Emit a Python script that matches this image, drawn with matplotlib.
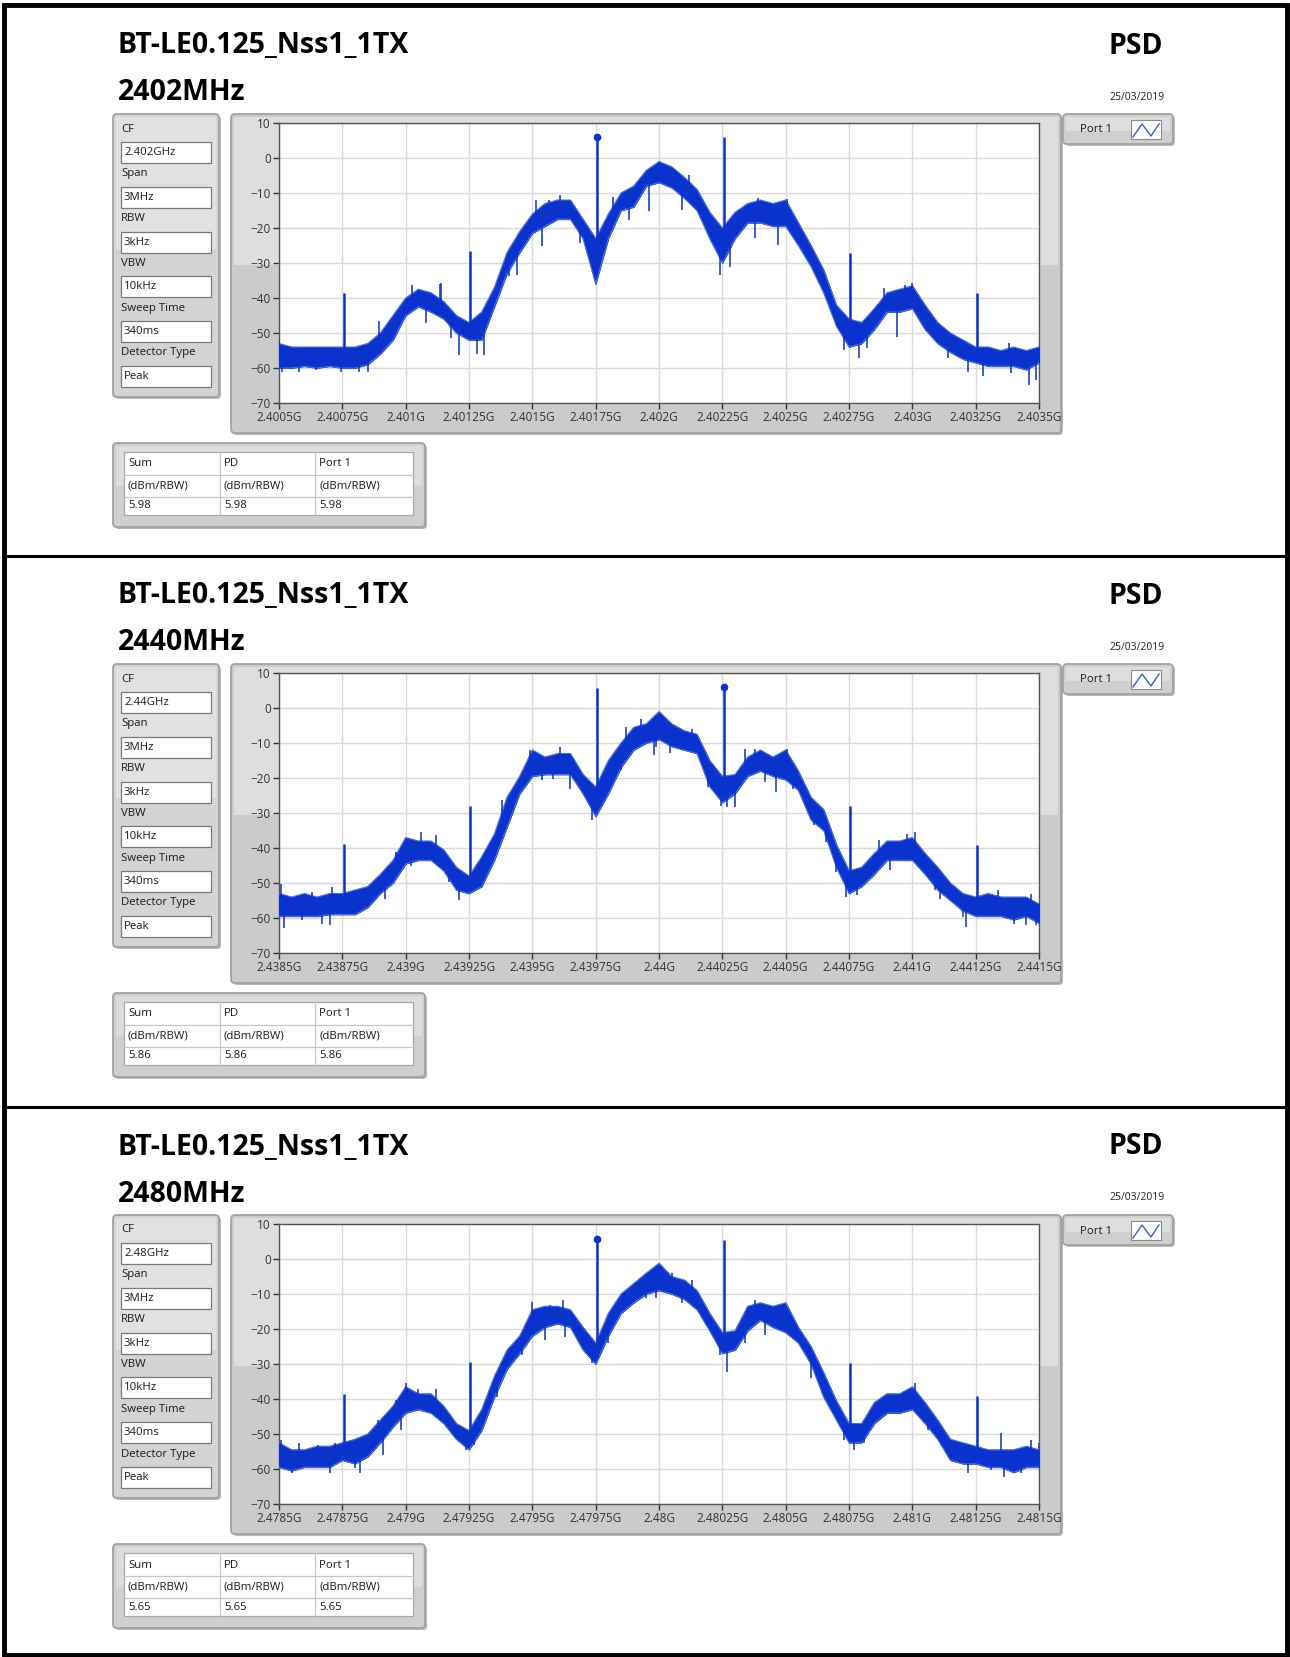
import numpy as np
import matplotlib
matplotlib.use('Agg')
import matplotlib.pyplot as plt
from matplotlib.patches import FancyBboxPatch, Rectangle
from matplotlib.ticker import FuncFormatter

W, H = 1290, 1657
plt.rcParams['font.family'] = ['Open Sans', 'DejaVu Sans']

BLUE = '#0a32cc'

# --- report data ---------------------------------------------------------
test_name = 'BT-LE0.125_Nss1_1TX'
channels = ['2402MHz', '2440MHz', '2480MHz']
cf_text = ['2.402GHz', '2.44GHz', '2.48GHz']
start_ghz = [2.4005, 2.4385, 2.4785]
report_date = '25/03/2019'
param_names = ['CF', 'Span', 'RBW', 'VBW', 'Sweep Time', 'Detector Type']
param_common = ['3MHz', '3kHz', '10kHz', '340ms', 'Peak']
table_cols = ['Sum', 'PD', 'Port 1']
table_unit = '(dBm/RBW)'
psd_result = [5.98, 5.86, 5.65]

# trace envelope (dBm), one value every 50 kHz from the start frequency
upper_2402 = [-53, -54, -54, -54, -54, -54, -54, -53, -50, -45, -40, -37.5, -38.5, -41, -45, -47,
              -44, -37, -27, -21, -16, -13, -12, -12, -17.5, -23, -16, -10, -8, -3.5, -1, -2.5,
              -5.5, -9, -15.5, -20, -15.5, -13, -12, -13, -12, -18.5, -25, -32, -42, -46, -47,
              -43, -38.5, -37.5, -36.5, -42, -47, -50, -52, -54, -54, -55, -54, -55, -54]
lower_2402 = [-60, -60, -59.5, -60, -59.5, -60, -60, -59, -56, -52, -45, -42.5, -44, -46, -50, -52,
              -52, -42.5, -33, -27, -21.5, -19.5, -17.5, -17.5, -23, -36, -23, -15, -14, -8, -7,
              -8.5, -11.5, -15, -23, -30, -23, -18.5, -18.5, -19.5, -19.5, -25, -31, -38.5, -48,
              -54, -53, -49, -44, -44, -43, -49, -53, -55.5, -57.5, -58.5, -59.5, -59.5, -59.5,
              -60.5, -58.5]
upper_2440 = [-53, -54, -53, -54, -53, -53, -52, -51, -47.5, -43.5, -37, -38, -38, -40.5, -45.5, -48,
              -42.5, -36, -25.5, -19.5, -12, -14, -13, -13, -19, -22.5, -15, -10, -5.5, -4.5, -1,
              -4.5, -6.5, -7.5, -15, -19.5, -19, -14, -12, -14, -12, -18, -25.5, -29, -39, -46.5,
              -45.5, -41.5, -38, -38, -37, -41.5, -45.5, -50, -53, -54, -53, -54, -54, -54, -56]
lower_2440 = [-59.5, -59.5, -59.5, -59.5, -59, -59, -59, -57, -53, -50, -44.5, -43.5, -43.5, -46.5,
              -52, -53, -51, -43.5, -34, -24.5, -19.5, -19, -19, -19, -24.5, -31, -24.5, -17, -12,
              -10, -9, -11, -12, -13, -22.5, -27, -24.5, -19.5, -18, -19.5, -20.5, -23.5, -32, -35,
              -45.5, -53, -51, -47.5, -43.5, -43.5, -43.5, -47.5, -52, -55, -58, -59.5, -59.5,
              -59.5, -60.5, -59.5, -61.5]
upper_2480 = [-52.5, -54.5, -54.5, -53.5, -53.5, -52.5, -51.5, -50, -46, -42, -36.5, -38.5, -38.5,
              -42, -47, -49, -43, -33.5, -26, -22, -14.5, -13.5, -13.5, -14.5, -19.5, -24, -15.5,
              -10, -7, -4, -1.2, -5, -6, -9, -15.5, -21, -20.5, -13.5, -12.5, -13.5, -12.5, -19.5,
              -25, -32.5, -40.5, -47, -47, -41, -38.5, -38.5, -36.5, -41, -46, -51.5, -52.5, -53.5,
              -54.5, -54.5, -54.5, -53.5, -54.5]
lower_2480 = [-59.5, -60.5, -59.5, -59.5, -59.5, -57.5, -58.5, -56.5, -52.5, -48, -44, -43, -44, -47,
              -51.5, -54.5, -49, -39.5, -31.5, -27, -22, -19.5, -18.5, -19.5, -26, -30, -22, -15.5,
              -12.5, -10, -9, -10, -11.5, -14.5, -20.5, -27, -26, -20.5, -17.5, -19.5, -21, -24, -30,
              -39.5, -46, -52.5, -52.5, -47, -44, -44, -43, -47, -51.5, -57.5, -58.5, -58.5, -59.5,
              -59.5, -61, -59.5, -59.5]

# narrow spurs: offset from start (MHz), peak and foot (dBm)
spur_off = [0.255, 0.755, 1.255, 1.755, 2.255, 2.755]
spur_top_2402 = [-38.6, -26.7, 5.98, 5.9, -27.0, -38.6]
spur_top_2440 = [-38.8, -28.1, 5.8, 5.86, -28.1, -39.0]
spur_top_2480 = [-38.6, -29.3, 5.65, 5.5, -29.6, -39.0]
spur_foot_2402 = [-58, -50, -30, -25, -50, -56]
spur_foot_2440 = [-57, -50, -28, -24, -50, -57]
spur_foot_2480 = [-57, -50, -27, -25, -50, -57]
marker_idx = [2, 3, 2]

# single noise samples sticking out of the band: offset (MHz) and level (dBm)
out_off_2402 = [0.0, 0.01, 0.08, 0.145, 0.243, 0.316, 0.35, 0.395, 0.526, 0.58, 0.634, 0.64, 0.678,
                0.71, 0.78, 0.81, 0.907, 0.94, 1.013, 1.04, 1.066, 1.11, 1.19, 1.27, 1.32, 1.38,
                1.46, 1.59, 1.62, 1.74, 1.78, 1.88, 1.89, 1.97, 2.005, 2.23, 2.29, 2.32, 2.39, 2.44,
                2.47, 2.5, 2.64, 2.72, 2.78, 2.88, 2.89, 2.96, 2.99]
out_val_2402 = [-52, -61, -61, -60.5, -61, -61, -61, -46.7, -36.2, -47, -36, -35.7, -51.4,
                -56.2, -56, -56.2, -33.8, -33.3, -11.9, -25.2, -11.9, -10.5, -24.3, -27.6, -11, -17.6,
                -15.2, -14.8, -4.8, -33.3, -31, -22.9, -11.4, -24.8, -11.6, -54.8, -57.1, -54.3, -37.1, -51,
                -36.2, -35.7, -57.1, -61, -62.4, -52.9, -61.4, -64.8, -63.3]
out_off_2440 = [0.008, 0.02, 0.09, 0.13, 0.17, 0.2, 0.21, 0.42, 0.46, 0.52, 0.56, 0.62, 0.67, 0.71,
                0.84, 0.88, 0.99, 1.04, 1.08, 1.11, 1.15, 1.235, 1.27, 1.35, 1.37, 1.43, 1.48, 1.487,
                1.545, 1.63, 1.695, 1.745, 1.77, 1.8, 1.84, 1.88, 1.92, 1.96, 2.005, 2.03, 2.11,
                2.16, 2.2, 2.24, 2.28, 2.37, 2.41, 2.48, 2.51, 2.59, 2.61, 2.7, 2.71, 2.84, 2.9,
                2.95, 2.97, 2.99]
out_val_2440 = [-50.2, -63, -60.7, -52.6, -61.6, -62, -51.1, -54.5, -41.1, -45, -35.4, -36.4, -49.7, -54.8,
                -44, -26.4, -11.9, -20.7, -20.2, -11.1, -23, -31.9, -28, -17.8, -5.4, -3, -13.5, -11,
                -12.9, -5.9, -22.6, -28, -28.3, -28.3, -11.6, -11.6, -21.1, -24, -11.6, -23, -33.5,
                -38.3, -46.9, -54, -53.5, -37.8, -46.4, -35.9, -35.4, -52, -54.5, -59.7, -62.6, -52, -61.6,
                -62.1, -53, -62]
out_off_2480 = [0.008, 0.05, 0.08, 0.155, 0.2, 0.22, 0.3, 0.32, 0.39, 0.41, 0.46, 0.48, 0.5, 0.55,
                0.62, 0.74, 0.77, 0.86, 0.96, 1.0, 1.05, 1.07, 1.12, 1.13, 1.235, 1.26, 1.3, 1.45,
                1.487, 1.55, 1.59, 1.63, 1.74, 1.77, 1.84, 1.88, 1.92, 2.1, 2.23, 2.27, 2.31, 2.34,
                2.51, 2.56, 2.72, 2.81, 2.85, 2.86, 2.93, 2.97, 3.0]
out_val_2480 = [-51.7, -61.2, -52.7, -53.1, -61.2, -52.7, -59.8, -61.2, -46, -56, -40.3, -48.9, -35.5, -37,
                -37, -54.6, -53.1, -39.3, -27.4, -12.2, -23.1, -13.1, -11.7, -22.2, -29.8, -28.4, -24.1, -11,
                -11, -4.1, -12.7, -6, -27.4, -32.2, -24.1, -11.7, -21.7, -34.1, -51.7, -54.6, -52.7, -43.1,
                -35.5, -48.9, -61.2, -60.3, -49.8, -62.2, -61.2, -51.7, -52.5]

uppers = [upper_2402, upper_2440, upper_2480]
lowers = [lower_2402, lower_2440, lower_2480]
spur_tops = [spur_top_2402, spur_top_2440, spur_top_2480]
spur_feet = [spur_foot_2402, spur_foot_2440, spur_foot_2480]
out_offs = [out_off_2402, out_off_2440, out_off_2480]
out_vals = [out_val_2402, out_val_2440, out_val_2480]

fig = plt.figure(figsize=(W / 100, H / 100), dpi=100)
bg = fig.add_axes([0, 0, 1, 1], zorder=0)
bg.set_xlim(0, W)
bg.set_ylim(H, 0)
bg.axis('off')


def px_axes(x0, y0, x1, y1):
    return fig.add_axes([x0 / W, 1 - y1 / H, (x1 - x0) / W, (y1 - y0) / H], zorder=3)


def rbox(x, y, w, h, fc, ec='#a2a2a2', lw=1.3, r=4, z=1):
    bg.add_patch(FancyBboxPatch((x, y), w, h, boxstyle=f'round,pad=0,rounding_size={r}',
                                fc=fc, ec=ec, lw=lw, zorder=z))


def rect(x, y, w, h, fc, ec='none', lw=0.0, z=2):
    bg.add_patch(Rectangle((x, y), w, h, fc=fc, ec=ec, lw=lw, zorder=z))


def ghz_fmt(v, pos):
    return f'{v:.5f}'.rstrip('0').rstrip('.') + 'G'


step = 0.05
offs = np.arange(len(upper_2402)) * step

for i in range(3):
    dy = [0, 550, 1101][i]
    f0 = start_ghz[i]

    # headings
    bg.text(118, 46 + dy, test_name, fontsize=20.5, fontweight='bold', va='center', ha='left')
    bg.text(118, 93 + dy, channels[i], fontsize=20.5, fontweight='bold', va='center', ha='left')
    bg.text(1136, 46 + dy, 'PSD', fontsize=20.5, fontweight='bold', va='center', ha='center')
    bg.text(1137, 97 + dy, report_date, fontsize=7.5, va='center', ha='center', color='#222222')

    # settings panel
    rbox(115, 116 + dy, 106, 283, '#b8b8b8', ec='none', z=0.5)
    rbox(113, 114 + dy, 106, 283, '#d3d3d3')
    rect(116, 117 + dy, 100, 132, '#e1e1e1', z=1.5)
    values = [cf_text[i]] + param_common
    for k, (name, val) in enumerate(zip(param_names, values)):
        top = 142 + dy + k * 44.8
        bg.text(121, top - 13, name, fontsize=8.2, va='center', ha='left', color='#1a1a1a')
        rect(121, top, 90, 21, 'white', ec='#7a7a7a', lw=0.9, z=2)
        bg.text(124, top + 10.5, val, fontsize=8.2, va='center', ha='left', color='#1a1a1a')

    # graph frame
    rbox(233, 116 + dy, 830, 319, '#b8b8b8', ec='none', z=0.5)
    rbox(231, 114 + dy, 830, 319, '#cbcbcb')
    rect(234, 117 + dy, 824, 148, '#dedede', z=1.5)

    # legend
    rbox(1065, 116 + dy, 110, 30, '#b8b8b8', ec='none', z=0.5)
    rbox(1063, 114 + dy, 110, 30, '#cfcfcf')
    rect(1066, 117 + dy, 104, 14, '#dedede', z=1.5)
    bg.text(1080, 130 + dy, 'Port 1', fontsize=8.2, va='center', ha='left', color='#1a1a1a')
    rect(1131, 120 + dy, 30, 19, 'white', ec='#8a8a8a', lw=0.8, z=2)
    bg.plot([1133, 1142, 1151, 1159], [137 + dy, 124 + dy, 136 + dy, 124 + dy],
            color='#3060d8', lw=1.0, zorder=3)

    # results table
    rbox(115, 445 + dy, 312, 84, '#b8b8b8', ec='none', z=0.5)
    rbox(113, 443 + dy, 312, 84, '#cfcfcf')
    rect(116, 446 + dy, 306, 40, '#dcdcdc', z=1.5)
    rect(124, 452 + dy, 289, 63, 'white', ec='#a8a8a8', lw=0.9, z=2)
    for yy in (475, 497):
        bg.plot([124, 413], [yy + dy, yy + dy], color='#c8c8c8', lw=0.9, zorder=3)
    for xx in (220, 315):
        bg.plot([xx, xx], [452 + dy, 515 + dy], color='#c8c8c8', lw=0.9, zorder=3)
    for c, xx in enumerate((128, 224, 319)):
        bg.text(xx, 464 + dy, table_cols[c], fontsize=8.2, va='center', ha='left', color='#1a1a1a')
        bg.text(xx, 486 + dy, table_unit, fontsize=8.2, va='center', ha='left', color='#1a1a1a')
        bg.text(xx, 506 + dy, f'{psd_result[i]:.2f}', fontsize=8.2, va='center', ha='left',
                color='#1a1a1a')

    # spectrum: noise band, stray samples, spurs and peak marker
    ax = px_axes(279, 123 + dy, 1039, 403 + dy)
    freq = f0 + offs / 1000
    up = np.array(uppers[i], dtype=float)
    lo = np.array(lowers[i], dtype=float)
    ax.fill_between(freq, lo, up, color=BLUE, lw=0.6, zorder=3)
    ax.plot(freq, up, color='#4a6ee0', lw=0.8, zorder=3)
    ax.plot(freq, lo, color='#4a6ee0', lw=0.8, zorder=3)

    o_off = np.array(out_offs[i])
    o_base = np.interp(o_off, offs, (up + lo) / 2)
    ax.vlines(f0 + o_off / 1000, o_base, out_vals[i], color=BLUE, lw=1.1, zorder=4)

    sp_f = f0 + np.array(spur_off) / 1000
    ax.vlines(sp_f, spur_feet[i], spur_tops[i], color=BLUE, lw=1.8, zorder=4)
    m = marker_idx[i]
    ax.plot(sp_f[m], spur_tops[i][m], 'o', color=BLUE, ms=4.5, zorder=5)

    ax.set_xlim(f0, f0 + 0.003)
    ax.set_ylim(-70, 10)
    ax.set_xticks(f0 + np.arange(13) * 0.00025)
    ax.set_yticks(np.arange(-70, 11, 10))
    ax.xaxis.set_major_formatter(FuncFormatter(ghz_fmt))
    ax.grid(True, color='#dadada', lw=1.0)
    ax.set_axisbelow(True)
    ax.tick_params(labelsize=8.5, length=4, width=1, colors='#333333', pad=2)
    for s in ax.spines.values():
        s.set_color('#555555')
        s.set_linewidth(1.0)
    ax.set_facecolor('white')

# page frame and separators
bg.add_patch(Rectangle((4, 5), 1283, 1650, fc='none', ec='black', lw=3.5, zorder=6))
for yy in (556, 1107):
    bg.plot([4, 1287], [yy, yy], color='black', lw=2.2, zorder=6)

fig.savefig('out.png', dpi=100)
